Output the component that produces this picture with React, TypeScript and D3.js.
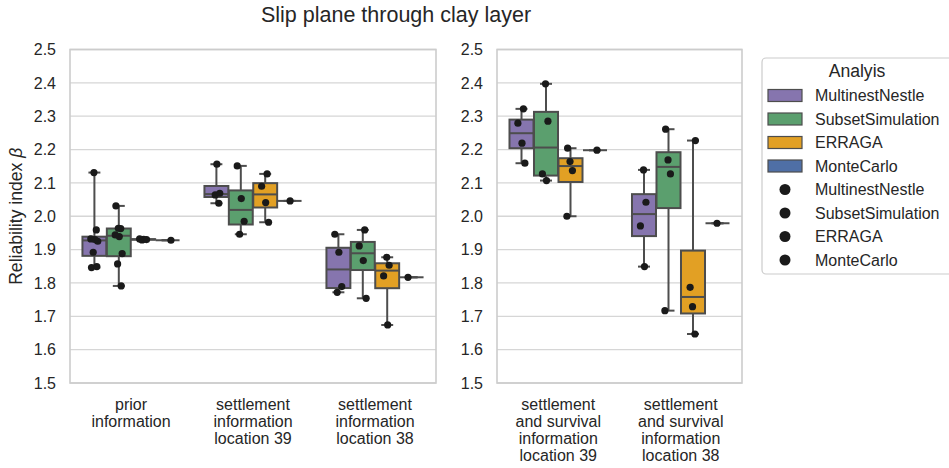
import React, { useEffect } from 'react';
import * as d3 from 'd3';

const W = 949;
const H = 468;

const title = 'Slip plane through clay layer';
const yLabel = 'Reliability index ';
const legendTitle = 'Analyis';

const categories = [
  'prior\ninformation',
  'settlement\ninformation\nlocation 39',
  'settlement\ninformation\nlocation 38',
  'settlement\nand survival\ninformation\nlocation 39',
  'settlement\nand survival\ninformation\nlocation 38',
];
const leftCategories = [0, 1, 2];
const rightCategories = [3, 4];

const methods = ['MultinestNestle', 'SubsetSimulation', 'ERRAGA', 'MonteCarlo'];
const methodColors = ['#8675ae', '#5b9f6e', '#e2a024', '#4f6fa6'];

const multinestNestle = [
  [1.846, 1.849, 1.892, 1.925, 1.93, 1.932, 1.959, 2.131],
  [2.039, 2.064, 2.069, 2.156],
  [1.772, 1.789, 1.892, 1.946],
  [2.159, 2.219, 2.279, 2.322],
  [1.849, 1.971, 2.042, 2.139],
];
const subsetSimulation = [
  [1.791, 1.857, 1.888, 1.939, 1.944, 1.963, 1.964, 2.031],
  [1.946, 1.985, 2.053, 2.151],
  [1.754, 1.867, 1.911, 1.959],
  [2.107, 2.127, 2.285, 2.397],
  [1.717, 2.127, 2.169, 2.261],
];
const erraga = [
  [1.929, 1.93, 1.931, 1.932],
  [1.982, 2.041, 2.09, 2.127],
  [1.674, 1.821, 1.853, 1.877],
  [2.0, 2.137, 2.164, 2.204],
  [1.647, 1.729, 1.787, 2.227],
];
const monteCarlo = [[1.928], [2.046], [1.817], [2.198], [1.979]];

const seriesData = [multinestNestle, subsetSimulation, erraga, monteCarlo];

const yTicks = [1.5, 1.6, 1.7, 1.8, 1.9, 2.0, 2.1, 2.2, 2.3, 2.4, 2.5];

const FONT = "'Liberation Sans', Arial, Helvetica, sans-serif";
const jitterPattern = [-0.12, 0.1, -0.05, 0.14, 0.02, -0.15, 0.08, -0.02];

const panels = [
  { x0: 70, x1: 436, cats: leftCategories },
  { x0: 497, x1: 742, cats: rightCategories },
];
const yTop = 49.5;
const yBottom = 383;

export default function App() {
  useEffect(() => {
    document.body.style.margin = '0';
  }, []);

  const y = d3.scaleLinear().domain([1.5, 2.5]).range([yBottom, yTop]);
  const edge = '#4d4d4d';

  const panelEls = panels.map((p, pi) => {
    const band = d3.scaleBand<number>().domain(p.cats).range([p.x0, p.x1]).padding(0);
    const bw = band.bandwidth();
    const hue = d3.scaleBand<string>().domain(methods).range([-0.4 * bw, 0.4 * bw]).padding(0);
    const boxW = hue.bandwidth() * 0.98;

    const boxes: any[] = [];
    const dots: any[] = [];
    p.cats.forEach((c) => {
      const cx0 = (band(c) as number) + bw / 2;
      methods.forEach((m, mi) => {
        const vals = seriesData[mi][c].slice().sort(d3.ascending);
        const q1 = d3.quantile(vals, 0.25) as number;
        const med = d3.quantile(vals, 0.5) as number;
        const q3 = d3.quantile(vals, 0.75) as number;
        const mn = d3.min(vals) as number;
        const mx = d3.max(vals) as number;
        const cx = cx0 + (hue(m) as number) + hue.bandwidth() / 2;
        const key = `${c}-${mi}`;
        boxes.push(
          <g key={key}>
            <line x1={cx} x2={cx} y1={y(q3)} y2={y(mx)} stroke={edge} strokeWidth={2} />
            <line x1={cx} x2={cx} y1={y(q1)} y2={y(mn)} stroke={edge} strokeWidth={2} />
            <line x1={cx - boxW / 4} x2={cx + boxW / 4} y1={y(mx)} y2={y(mx)} stroke={edge} strokeWidth={2} />
            <line x1={cx - boxW / 4} x2={cx + boxW / 4} y1={y(mn)} y2={y(mn)} stroke={edge} strokeWidth={2} />
            <rect
              x={cx - boxW / 2}
              y={y(q3)}
              width={boxW}
              height={Math.max(0, y(q1) - y(q3))}
              fill={methodColors[mi]}
              stroke={edge}
              strokeWidth={2}
            />
            <line x1={cx - boxW / 2} x2={cx + boxW / 2} y1={y(med)} y2={y(med)} stroke={edge} strokeWidth={2} />
          </g>
        );
        seriesData[mi][c].forEach((v, vi) => {
          dots.push(
            <circle
              key={`${key}-${vi}`}
              cx={cx + jitterPattern[(vi + mi + c) % jitterPattern.length] * boxW}
              cy={y(v)}
              r={3.6}
              fill="#1a1a1a"
            />
          );
        });
      });
    });

    return (
      <g key={pi}>
        <rect x={p.x0} y={yTop} width={p.x1 - p.x0} height={yBottom - yTop} fill="white" />
        {yTicks.map((t) => (
          <line key={t} x1={p.x0} x2={p.x1} y1={y(t)} y2={y(t)} stroke="#d6d6d6" strokeWidth={1.3} />
        ))}
        <rect
          x={p.x0}
          y={yTop}
          width={p.x1 - p.x0}
          height={yBottom - yTop}
          fill="none"
          stroke="#cccccc"
          strokeWidth={1.6}
        />
        {yTicks.map((t) => (
          <text
            key={'l' + t}
            x={p.x0 - 14}
            y={y(t)}
            dy="0.36em"
            textAnchor="end"
            fontSize={16}
            fill="#262626"
            fontFamily={FONT}
          >
            {d3.format('.1f')(t)}
          </text>
        ))}
        {p.cats.map((c) => {
          const cx = (band(c) as number) + bw / 2;
          return (
            <text key={'c' + c} textAnchor="middle" fontSize={16} fill="#262626" fontFamily={FONT}>
              {categories[c].split('\n').map((line, li) => (
                <tspan key={li} x={cx} y={409.5 + li * 17.2}>
                  {line}
                </tspan>
              ))}
            </text>
          );
        })}
        {boxes}
        {dots}
      </g>
    );
  });

  const legX = 762;
  const legY = 58;
  const rowY = (i: number) => 95.5 + i * 23.5;

  return (
    <svg width={W} height={H} style={{ position: 'absolute', left: 0, top: 0, display: 'block' }}>
      <rect x={0} y={0} width={W} height={H} fill="white" />
      <text x={396} y={22} textAnchor="middle" fontSize={21.5} fill="#262626" fontFamily={FONT}>
        {title}
      </text>
      <text
        transform={`translate(22,${(yTop + yBottom) / 2}) rotate(-90)`}
        textAnchor="middle"
        fontSize={17.6}
        fill="#262626"
        fontFamily={FONT}
      >
        {yLabel}
        <tspan fontStyle="italic">β</tspan>
      </text>
      {panelEls}
      <g>
        <rect x={legX} y={legY} width={205} height={216} rx={4} fill="white" stroke="#cccccc" strokeWidth={1.2} />
        <text x={857} y={77} textAnchor="middle" fontSize={17.6} fill="#262626" fontFamily={FONT}>
          {legendTitle}
        </text>
        {methods.map((m, i) => (
          <g key={'lp' + m}>
            <rect x={768} y={rowY(i) - 6} width={34} height={12} fill={methodColors[i]} stroke={edge} strokeWidth={1.2} />
            <text x={815} y={rowY(i)} dy="0.36em" fontSize={16} fill="#262626" fontFamily={FONT}>
              {m}
            </text>
          </g>
        ))}
        {methods.map((m, i) => (
          <g key={'ld' + m}>
            <circle cx={785} cy={rowY(i + 4)} r={5.5} fill="#1a1a1a" />
            <text x={815} y={rowY(i + 4)} dy="0.36em" fontSize={16} fill="#262626" fontFamily={FONT}>
              {m}
            </text>
          </g>
        ))}
      </g>
    </svg>
  );
}
